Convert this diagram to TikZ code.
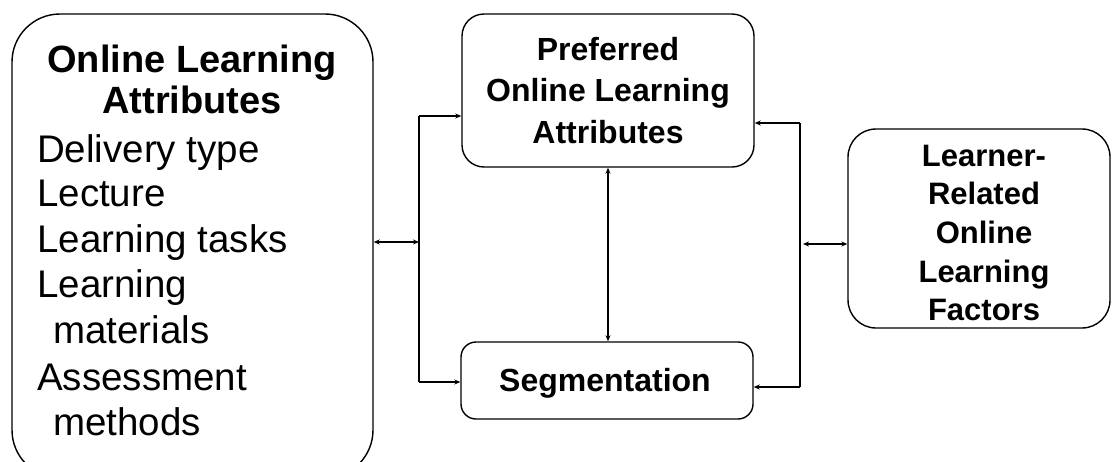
\documentclass[tikz,border=0pt]{standalone}
\usepackage{fontspec}
\setmainfont{Liberation Sans}
\usetikzlibrary{arrows.meta}
\begin{document}
\begin{tikzpicture}[x=1pt,y=-1pt,
 box/.style={draw=black, line width=1.4pt, rounded corners=#1, inner sep=0pt},
 hdr/.style={font=\bfseries\fontsize{38}{40}\selectfont, anchor=base, inner sep=0pt},
 body/.style={font=\fontsize{38.5}{40}\selectfont, anchor=base west, inner sep=0pt},
 mid/.style={font=\bfseries\fontsize{32}{34}\selectfont, anchor=base, inner sep=0pt},
 rt/.style={font=\bfseries\fontsize{31}{33}\selectfont, anchor=base, inner sep=0pt},
 conn/.style={line width=1.3pt},
 tip/.style={-{Stealth[length=6pt,width=5pt]}},
 dtip/.style={{Stealth[length=6pt,width=5pt]}-{Stealth[length=6pt,width=5pt]}}]
\clip (0,0) rectangle (1113,461);
\fill[white] (0,0) rectangle (1113,461);
% boxes
\node[box=48, minimum width=361pt, minimum height=464pt] (lbox) at (192.5,246) {};
\node[box=22, minimum width=292pt, minimum height=153pt] (tbox) at (608,90.5) {};
\node[box=15, minimum width=292pt, minimum height=77pt] (bbox) at (607,380.5) {};
\node[box=28, minimum width=262pt, minimum height=199pt] (rbox) at (979,228.5) {};
% left box text
\node[hdr] (lh1) at (192,72) {Online Learning};
\node[hdr] (lh2) at (192,113) {Attributes};
\node[body] (lb1) at (37,162) {Delivery type};
\node[body] (lb2) at (37,206) {Lecture};
\node[body] (lb3) at (37,252) {Learning tasks};
\node[body] (lb4) at (37,297) {Learning};
\node[body] (lb5) at (53,343) {materials};
\node[body] (lb6) at (37,390) {Assessment};
\node[body] (lb7) at (53,435) {methods};
% top box text
\node[mid] (t1) at (608,60) {Preferred};
\node[mid] (t2) at (608,101) {Online Learning};
\node[mid] (t3) at (608,143) {Attributes};
% bottom box text
\node[mid] (b1) at (605,391) {Segmentation};
% right box text
\node[rt] (r1) at (984,166) {Learner-};
\node[rt] (r2) at (984,204) {Related};
\node[rt] (r3) at (984,243) {Online};
\node[rt] (r4) at (984,282) {Learning};
\node[rt] (r5) at (984,320) {Factors};
% connectors
\coordinate (lj) at (419,242);
\coordinate (ljt) at (419,116);
\coordinate (ljb) at (419,382);
\coordinate (rj) at (800,244);
\coordinate (rjt) at (800,123);
\coordinate (rjb) at (800,387);
\draw[conn,dtip] (lbox.east |- lj) -- (lj);
\draw[conn] (ljt) -- (ljb);
\draw[conn,tip] (ljt) -- (tbox.west |- ljt);
\draw[conn,tip] (ljb) -- (bbox.west |- ljb);
\draw[conn] (rjt) -- (rjb);
\draw[conn,tip] (rjt) -- (tbox.east |- rjt);
\draw[conn,tip] (rjb) -- (bbox.east |- rjb);
\draw[conn,dtip] ([xshift=3pt]rj) -- (rbox.west |- rj);
\draw[conn,dtip] (tbox.south) -- (tbox.south |- bbox.north);
\end{tikzpicture}
\end{document}
